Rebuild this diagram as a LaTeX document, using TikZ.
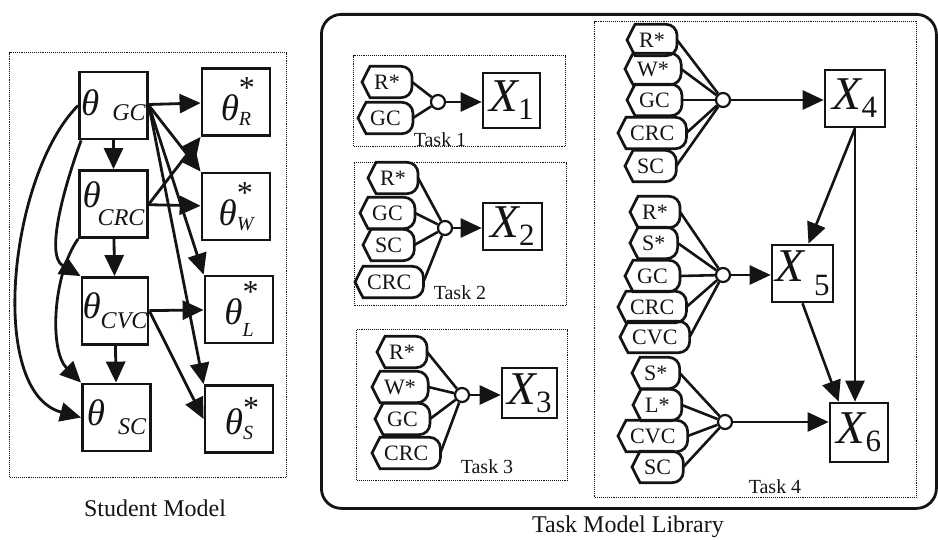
\documentclass[tikz,border=0pt]{standalone}
\usepackage{fontspec}
\setmainfont{Liberation Serif}
\usetikzlibrary{arrows.meta,calc,positioning}
\definecolor{scink}{HTML}{141414}
\newcommand\smtheta[3]{{\fontsize{37}{37}\selectfont\itshape θ}\hspace{#1}\raisebox{-#2}{\fontsize{24}{24}\selectfont\itshape #3}}
\newcommand\smstar[3]{{\fontsize{37}{37}\selectfont\itshape θ}\rlap{\raisebox{#1}{\fontsize{32}{32}\selectfont *}}\raisebox{-#2}{\fontsize{20}{20}\selectfont\itshape #3}}
\newcommand\tmobs[3]{{\fontsize{47}{47}\selectfont\itshape X}\hspace{#1}\raisebox{-#2}{\fontsize{31}{31}\selectfont #3}}
\newcommand\tmtagfont{\fontsize{22}{22}\selectfont}
\tikzset{
  sm panel/.style={draw=scink, line width=1.1pt, densely dotted, inner sep=0pt},
  sm box/.style={draw=scink, line width=2.8pt, minimum width=68pt, minimum height=67pt, inner sep=0pt},
  sm arrow/.style={-{Triangle[length=21pt,width=19pt]}, line width=2.8pt, draw=scink},
  tm frame/.style={draw=scink, line width=2.8pt, rounded corners=20pt, inner sep=0pt},
  tm task/.style={draw=scink, line width=1.1pt, densely dotted, inner sep=0pt},
  tm tag/.style={font=\tmtagfont, inner xsep=12pt, inner ysep=0pt, minimum height=31pt, anchor=west},
  tm tag line/.style={draw=scink, line width=2.7pt},
  tm hub/.style={circle, draw=scink, fill=white, line width=2.2pt, minimum size=14pt, inner sep=0pt},
  tm obs/.style={draw=scink, line width=2.6pt, minimum width=58pt, minimum height=56pt, inner sep=0pt},
  tm link/.style={draw=scink, line width=2.6pt},
  tm arrow/.style={-{Triangle[length=21pt,width=19pt]}, line width=2.6pt, draw=scink},
  caption/.style={font=\fontsize{24}{24}\selectfont},
  task label/.style={font=\fontsize{20}{20}\selectfont, inner sep=1pt}
}

\begin{document}
\begin{tikzpicture}[x=1pt, y=-1pt, text=scink]
  \useasboundingbox (0,0) rectangle (938,540);
  % student model
  \node[sm panel, minimum width=277pt, minimum height=425pt, anchor=north west] (smpanel) at (9,52) {};
  \node[sm box] (gc) at (113.5,105.5) {\smtheta{13pt}{5pt}{GC}};
  \node[sm box] (crc) at (113.5,204) {\smtheta{-3pt}{18pt}{CRC}};
  \node[sm box, minimum width=66pt] (cvc) at (115,311) {\smtheta{0pt}{10pt}{CVC}};
  \node[sm box] (sc) at (116.5,417.5) {\smtheta{13pt}{9pt}{SC}};
  \node[sm box] (r) at (236,102) {\smstar{22pt}{5pt}{R}};
  \node[sm box] (w) at (236,206.5) {\smstar{22pt}{5pt}{W}};
  \node[sm box] (l) at (239,309.5) {\smstar{22pt}{12pt}{L}};
  \node[sm box] (s) at (239,419) {\smstar{16pt}{5pt}{S}};
  \draw[sm arrow] (gc) -- (r);
  \draw[sm arrow] (gc) -- (crc);
  \draw[sm arrow] (crc) -- (cvc);
  \draw[sm arrow] (cvc) -- (sc);
  \draw[sm arrow] (crc) -- (w);
  \draw[sm arrow] (cvc) -- (l);
  \draw[sm arrow] (gc.east) -- (w.north west);
  \draw[sm arrow] (crc.east) -- (r.south west);
  \draw[sm arrow] (gc.east) -- (l.north west);
  \draw[sm arrow] (gc.east) -- (s.north west);
  \draw[sm arrow] (cvc.east) -- (s.west);
  \draw[sm arrow] (gc.west) to[out=225, in=165, looseness=0.8] (sc.west);
  \draw[sm arrow] ([xshift=3pt]gc.south west) to[out=250, in=150, looseness=0.8] (cvc.north west);
  \draw[sm arrow] (crc.south west) to[out=235, in=135, looseness=0.8] (sc.north west);
  \node[caption] (smcap) at (155,508) {Student Model};
  % task model library
  \node[tm frame, minimum width=615pt, minimum height=494pt, anchor=north west] (tmframe) at (320,13) {};
  \node[tm task, minimum width=212pt, minimum height=91pt, anchor=north west] (task1box) at (353,55) {};
  \node[tm task, minimum width=212pt, minimum height=143pt, anchor=north west] (task2box) at (354,162) {};
  \node[tm task, minimum width=211pt, minimum height=151pt, anchor=north west] (task3box) at (356,329) {};
  \node[tm task, minimum width=322pt, minimum height=476pt, anchor=north west] (task4box) at (594,21) {};
  \foreach \n/\x/\y/\s in {t1a/362/82/R*, t1b/358/118/GC,
      t2a/368/178/R*, t2b/360/213/GC, t2c/363/245/SC, t2d/355/282/CRC,
      t3a/377/352/R*, t3b/372/387/W*, t3c/375/419/GC, t3d/372/453/CRC,
      t4a/627/40/R*, t4b/625/69/W*, t4c/627/100/GC, t4d/618/133/CRC, t4e/625/166/SC,
      t5a/630/212/R*, t5b/630/243/S*, t5c/625/276/GC, t5d/618/307/CRC, t5e/620/337/CVC,
      t6a/632/373/S*, t6b/633/405/L*, t6c/618/436/CVC, t6d/632/467/SC}
    {\node[tm tag] (\n) at (\x,\y) {\s};}
  \foreach \n in {t1a,t1b,t2a,t2b,t2c,t2d,t3a,t3b,t3c,t3d,t4a,t4b,t4c,t4d,t4e,
      t5a,t5b,t5c,t5d,t5e,t6a,t6b,t6c,t6d}
    {\draw[tm tag line] (\n.west) -- ([xshift=8pt]\n.north west) [rounded corners=11pt] -- (\n.north east) -- (\n.south east) [sharp corners] -- ([xshift=8pt]\n.south west) -- cycle;}
  \node[tm hub] (h1) at (438,102) {};
  \node[tm hub] (h2) at (445,228) {};
  \node[tm hub] (h3) at (462,395) {};
  \node[tm hub] (h4) at (723,100) {};
  \node[tm hub] (h5) at (723,275) {};
  \node[tm hub] (h6) at (725,422) {};
  \foreach \n/\h in {t1a/h1, t1b/h1, t2a/h2, t2b/h2, t2c/h2, t2d/h2,
      t3a/h3, t3b/h3, t3c/h3, t3d/h3, t4a/h4, t4b/h4, t4c/h4, t4d/h4, t4e/h4,
      t5a/h5, t5b/h5, t5c/h5, t5d/h5, t5e/h5, t6a/h6, t6b/h6, t6c/h6, t6d/h6}
    {\draw[tm link] (\n.east) -- (\h);}
  \node[tm obs, minimum width=57pt, minimum height=55pt] (x1) at (511.5,100.5) {\tmobs{0pt}{8pt}{1}};
  \node[tm obs, minimum width=59pt, minimum height=47pt] (x2) at (512.5,226.5) {\tmobs{0pt}{8pt}{2}};
  \node[tm obs, minimum width=55pt, minimum height=50pt] (x3) at (529.5,393) {\tmobs{0pt}{8pt}{3}};
  \node[tm obs, minimum width=60pt, minimum height=57pt] (x4) at (855,98.5) {\tmobs{0pt}{8pt}{4}};
  \node[tm obs, minimum width=61pt, minimum height=57pt] (x5) at (802.5,273.5) {\tmobs{10pt}{14pt}{5}};
  \node[tm obs, minimum width=58pt, minimum height=59pt] (x6) at (859,432.5) {\tmobs{0pt}{8pt}{6}};
  \draw[tm arrow] (h1) -- (h1 -| x1.west);
  \draw[tm arrow] (h2) -- (h2 -| x2.west);
  \draw[tm arrow] (h3) -- (h3 -| x3.west);
  \draw[tm arrow] (h4) -- (h4 -| x4.west);
  \draw[tm arrow] (h5) -- (h5 -| x5.west);
  \draw[tm arrow] (h6) -- (h6 -| x6.west);
  \draw[tm arrow] (x4.south) -- ([xshift=6pt]x5.north);
  \draw[tm arrow] (x4.south) -- (x4.south |- x6.north);
  \draw[tm arrow] (x5.south) -- ([xshift=10pt]x6.north west);
  \node[task label] (task1) at (440,140) {Task 1};
  \node[task label] (task2) at (460,293) {Task 2};
  \node[task label] (task3) at (487,467) {Task 3};
  \node[task label] (task4) at (775,487) {Task 4};
  \node[caption] (tmcap) at (628,527) {Task Model Library};
\end{tikzpicture}
\end{document}
